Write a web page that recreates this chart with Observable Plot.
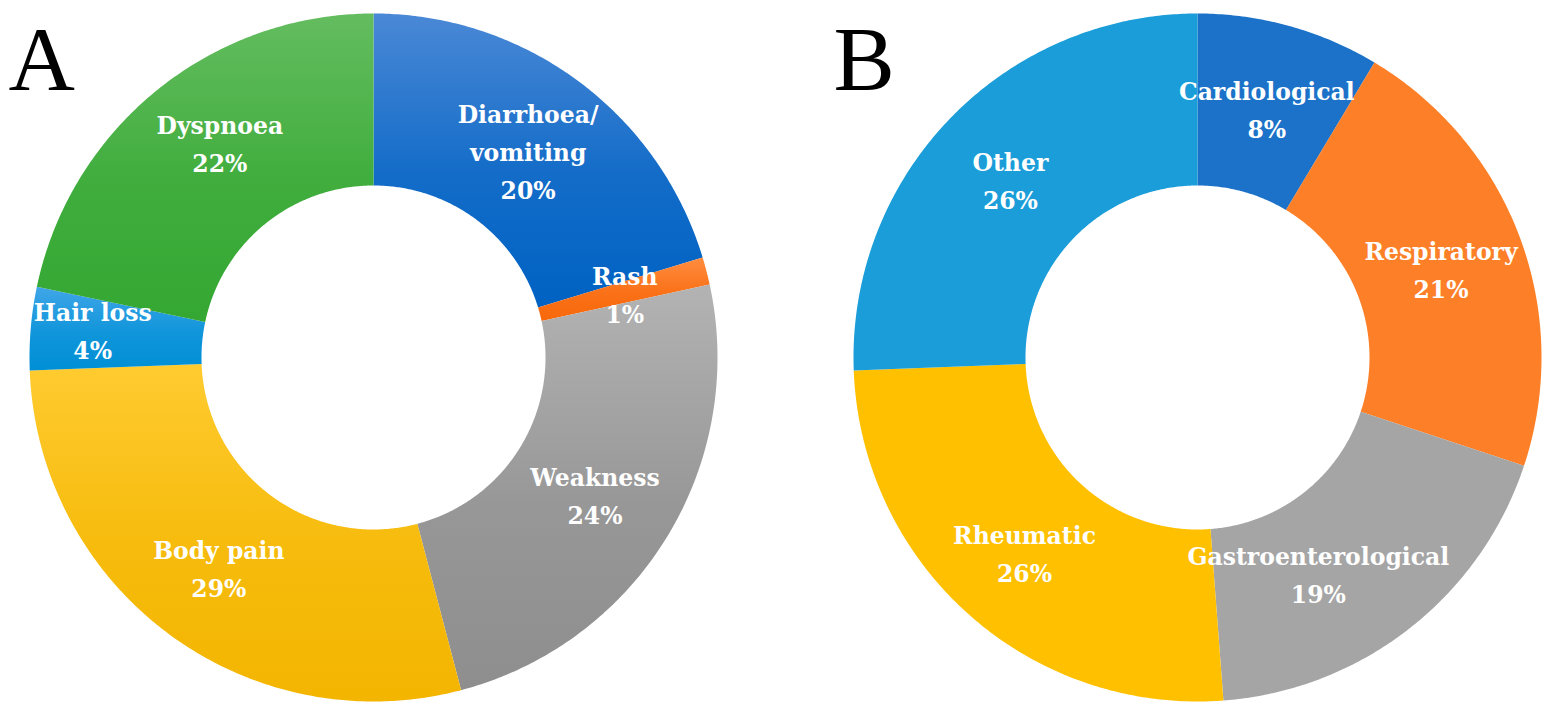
<!DOCTYPE html>
<html><head><meta charset="utf-8">
<script src="https://cdn.jsdelivr.net/npm/d3@7"></script>
<script src="https://cdn.jsdelivr.net/npm/@observablehq/plot@0.6"></script>
<style>
html,body{margin:0;padding:0;background:#fff;}
#wrap{display:flex;width:1550px;height:713px;overflow:hidden;}
#wrap svg{display:block;flex:none;}
</style></head><body><div id="wrap"></div>
<script>
// ---- data ----
const panelLetters = ["A", "B"];

const symptomNames = ["Diarrhoea/\nvomiting", "Rash", "Weakness", "Body pain", "Hair loss", "Dyspnoea"];
const symptomShares = [20.3, 1.3, 24.3, 28.5, 3.9, 21.7];     // arc shares
const symptomPctLabels = ["20%", "1%", "24%", "29%", "4%", "22%"];

const comorbidNames = ["Cardiological", "Respiratory", "Gastroenterological", "Rheumatic", "Other"];
const comorbidShares = [8.6, 21.5, 18.7, 25.6, 25.6];
const comorbidPctLabels = ["8%", "21%", "19%", "26%", "26%"];

// ---- styles ----
const symptomGradients = [
  ["#4a88d6", "#0062c3"],
  ["#ff8d40", "#f8680a"],
  ["#b3b3b3", "#8e8e8e"],
  ["#ffcb30", "#f3b500"],
  ["#40a6e8", "#008fd5"],
  ["#64bd5f", "#34a732"]
];
const comorbidColors = ["#1c72c8", "#fd7f27", "#a5a5a5", "#ffc000", "#1a9dd8"];

const R_OUT = 1, R_IN = 0.5, R_LABEL = 0.755;
const labelFont = "'DejaVu Serif', serif";
const labelSize = 23.5;
// small label nudges (pixels) where the reference moved a label to fit
const labelNudge = {
  "Hair loss": [-22, -8],
  "Dyspnoea": [10, -15],
  "Gastroenterological": [-39, 10]
};

function ringPoints(names, shares) {
  const arcs = d3.pie().sort(null).value(d => d)(shares);
  const pts = [];
  arcs.forEach((p, i) => {
    const span = p.endAngle - p.startAngle;
    const n = Math.max(6, Math.ceil(span / (Math.PI / 360)));
    for (let k = 0; k <= n; k++) {
      const a = p.startAngle + span * k / n;
      pts.push({key: names[i], x: Math.sin(a) * R_OUT, y: Math.cos(a) * R_OUT});
    }
    for (let k = n; k >= 0; k--) {
      const a = p.startAngle + span * k / n;
      pts.push({key: names[i], x: Math.sin(a) * R_IN, y: Math.cos(a) * R_IN});
    }
  });
  return {arcs, pts};
}

function donut({letter, names, shares, pcts, fills, marginLeft, marginRight, letterDx}) {
  const {arcs, pts} = ringPoints(names, shares);
  const W = 775, H = 713, mt = 13, mb = 12;
  const pxPerUnit = (W - marginLeft - marginRight) / 2;
  const labels = arcs.map((p, i) => {
    const a = (p.startAngle + p.endAngle) / 2;
    const nud = labelNudge[names[i]] || [0, 0];
    return {
      x: Math.sin(a) * R_LABEL + nud[0] / pxPerUnit,
      y: Math.cos(a) * R_LABEL - nud[1] / pxPerUnit,
      text: names[i] + "\n" + pcts[i]
    };
  });
  return Plot.plot({
    width: W, height: H,
    marginLeft, marginRight, marginTop: mt, marginBottom: mb,
    x: {domain: [-1, 1], axis: null},
    y: {domain: [-1, 1], axis: null},
    color: {type: "ordinal", domain: names, range: fills},
    marks: [
      Plot.line(pts, {x: "x", y: "y", z: "key", fill: "key", stroke: "none"}),
      Plot.text(labels, {
        x: "x", y: "y", text: "text",
        fill: "white", fontWeight: "bold", fontFamily: labelFont,
        fontSize: labelSize, lineHeight: 38 / labelSize
      }),
      Plot.text([letter], {
        text: d => d, frameAnchor: "top-left", textAnchor: "start", lineAnchor: "bottom",
        dx: letterDx, dy: 89 - mt,
        fontFamily: "'Liberation Serif', 'Times New Roman', serif", fontSize: 92, fill: "black"
      })
    ]
  });
}

const wrap = document.getElementById("wrap");

const gradIds = symptomGradients.map((_, i) => "symGrad" + i);
const svgA = donut({
  letter: panelLetters[0], names: symptomNames, shares: symptomShares, pcts: symptomPctLabels,
  fills: gradIds.map(id => `url(#${id})`), marginLeft: 29, marginRight: 58, letterDx: -21
});
const defs = d3.select(svgA).insert("defs", ":first-child");
symptomGradients.forEach(([c0, c1], i) => {
  const g = defs.append("linearGradient").attr("id", gradIds[i])
    .attr("x1", 0).attr("y1", 0).attr("x2", 0).attr("y2", 1);
  g.append("stop").attr("offset", "0%").attr("stop-color", c0);
  g.append("stop").attr("offset", "55%").attr("stop-color", d3.interpolateRgb(c0, c1)(0.75));
  g.append("stop").attr("offset", "100%").attr("stop-color", c1);
});
wrap.appendChild(svgA);

const svgB = donut({
  letter: panelLetters[1], names: comorbidNames, shares: comorbidShares, pcts: comorbidPctLabels,
  fills: comorbidColors, marginLeft: 78, marginRight: 9, letterDx: -20
});
wrap.appendChild(svgB);
</script>
</body></html>
